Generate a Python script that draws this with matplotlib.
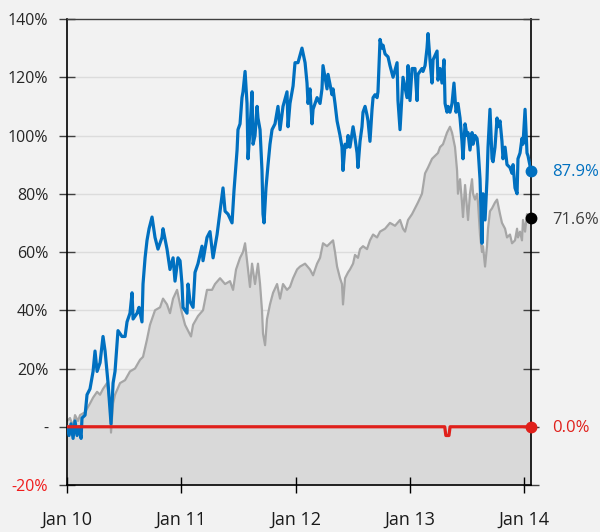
import matplotlib
matplotlib.use("Agg")
import matplotlib.pyplot as plt
import numpy as np

plt.rcParams['font.family'] = ['Open Sans', 'DejaVu Sans']

# --- data (x as decimal years, y in %) ---
blue_x = [2010.000, 2010.018, 2010.035, 2010.053, 2010.070, 2010.088, 2010.105, 2010.123, 2010.131, 2010.158,
          2010.175, 2010.201, 2010.228, 2010.245, 2010.263, 2010.289, 2010.315, 2010.333, 2010.350, 2010.359,
          2010.385, 2010.403, 2010.420, 2010.446, 2010.481, 2010.508, 2010.525, 2010.551, 2010.569, 2010.578,
          2010.613, 2010.630, 2010.656, 2010.665, 2010.683, 2010.700, 2010.718, 2010.744, 2010.770, 2010.796,
          2010.831, 2010.840, 2010.875, 2010.901, 2010.928, 2010.945, 2010.971, 2010.989, 2011.006, 2011.015,
          2011.050, 2011.059, 2011.076, 2011.103, 2011.120, 2011.146, 2011.181, 2011.190, 2011.225, 2011.251,
          2011.278, 2011.313, 2011.339, 2011.365, 2011.383, 2011.409, 2011.444, 2011.461, 2011.488, 2011.496,
          2011.514, 2011.531, 2011.540, 2011.558, 2011.575, 2011.584, 2011.601, 2011.619, 2011.628, 2011.645,
          2011.663, 2011.671, 2011.689, 2011.706, 2011.715, 2011.724, 2011.741, 2011.759, 2011.776, 2011.794,
          2011.820, 2011.846, 2011.864, 2011.890, 2011.925, 2011.934, 2011.951, 2011.978, 2011.995, 2012.021,
          2012.056, 2012.083, 2012.100, 2012.109, 2012.126, 2012.144, 2012.153, 2012.188, 2012.214, 2012.231,
          2012.240, 2012.275, 2012.284, 2012.319, 2012.328, 2012.345, 2012.363, 2012.389, 2012.406, 2012.415,
          2012.433, 2012.450, 2012.459, 2012.476, 2012.503, 2012.520, 2012.538, 2012.546, 2012.564, 2012.581,
          2012.590, 2012.608, 2012.625, 2012.634, 2012.651, 2012.669, 2012.678, 2012.695, 2012.713, 2012.721,
          2012.739, 2012.756, 2012.765, 2012.783, 2012.809, 2012.826, 2012.853, 2012.888, 2012.896, 2012.914,
          2012.940, 2012.975, 2012.984, 2013.001, 2013.019, 2013.045, 2013.063, 2013.071, 2013.106, 2013.115,
          2013.133, 2013.150, 2013.159, 2013.176, 2013.194, 2013.203, 2013.238, 2013.246, 2013.264, 2013.281,
          2013.299, 2013.308, 2013.325, 2013.334, 2013.351, 2013.369, 2013.386, 2013.404, 2013.421, 2013.439,
          2013.456, 2013.465, 2013.483, 2013.500, 2013.509, 2013.526, 2013.544, 2013.553, 2013.570, 2013.588,
          2013.596, 2013.614, 2013.631, 2013.640, 2013.658, 2013.675, 2013.684, 2013.701, 2013.719, 2013.728,
          2013.745, 2013.763, 2013.771, 2013.789, 2013.806, 2013.815, 2013.833, 2013.850, 2013.876, 2013.894,
          2013.903, 2013.920, 2013.938, 2013.946, 2013.964, 2013.981, 2013.990, 2014.008, 2014.025, 2014.034,
          2014.060]
blue_y = [0, -3, 1, -4, 2, -3, 0, -4, 3, 4,
          11, 13, 19, 26, 19, 22, 31, 26, 19, 15,
          1, 15, 19, 33, 31, 31, 36, 39, 46, 37,
          39, 41, 36, 49, 58, 64, 68, 72, 65, 61,
          65, 68, 61, 54, 58, 50, 58, 57, 49, 41,
          39, 49, 43, 41, 53, 56, 62, 57, 65, 67,
          58, 66, 74, 82, 74, 73, 70, 81, 95, 102,
          104, 113, 115, 122, 111, 92, 102, 115, 97, 100,
          110, 106, 102, 88, 73, 70, 82, 90, 97, 102,
          104, 110, 102, 110, 115, 103, 111, 117, 125, 125,
          130, 125, 118, 111, 116, 104, 109, 113, 111, 116,
          124, 116, 121, 114, 116, 111, 105, 100, 96, 88,
          97, 96, 100, 96, 103, 99, 94, 89, 98, 103,
          108, 110, 107, 105, 98, 109, 113, 114, 113, 115,
          133, 130, 131, 128, 127, 124, 120, 125, 112, 102,
          120, 113, 124, 112, 123, 123, 112, 121, 123, 122,
          124, 130, 135, 126, 118, 126, 129, 119, 123, 118,
          126, 111, 108, 110, 108, 111, 118, 108, 111, 106,
          98, 92, 104, 100, 101, 95, 101, 97, 100, 99,
          96, 85, 63, 80, 71, 85, 96, 109, 92, 91,
          96, 106, 103, 105, 98, 92, 96, 90, 89, 87,
          90, 82, 80, 92, 94, 99, 97, 109, 94, 93,
          87.9]

gray_x = [2010.000, 2010.026, 2010.053, 2010.070, 2010.096, 2010.114, 2010.158, 2010.201, 2010.228, 2010.263,
          2010.289, 2010.315, 2010.350, 2010.376, 2010.385, 2010.403, 2010.420, 2010.464, 2010.508, 2010.551,
          2010.595, 2010.639, 2010.665, 2010.700, 2010.726, 2010.770, 2010.814, 2010.840, 2010.875, 2010.901,
          2010.928, 2010.963, 2010.989, 2011.006, 2011.033, 2011.059, 2011.085, 2011.103, 2011.146, 2011.190,
          2011.225, 2011.269, 2011.295, 2011.339, 2011.383, 2011.426, 2011.453, 2011.479, 2011.514, 2011.540,
          2011.558, 2011.575, 2011.601, 2011.619, 2011.645, 2011.671, 2011.689, 2011.706, 2011.715, 2011.733,
          2011.750, 2011.776, 2011.803, 2011.838, 2011.864, 2011.890, 2011.925, 2011.951, 2011.978, 2012.013,
          2012.039, 2012.083, 2012.126, 2012.153, 2012.188, 2012.214, 2012.240, 2012.275, 2012.301, 2012.328,
          2012.345, 2012.363, 2012.389, 2012.406, 2012.415, 2012.433, 2012.459, 2012.476, 2012.503, 2012.520,
          2012.546, 2012.564, 2012.590, 2012.625, 2012.651, 2012.678, 2012.713, 2012.739, 2012.783, 2012.826,
          2012.870, 2012.914, 2012.940, 2012.958, 2012.984, 2013.019, 2013.045, 2013.071, 2013.106, 2013.133,
          2013.159, 2013.194, 2013.220, 2013.246, 2013.264, 2013.290, 2013.325, 2013.351, 2013.369, 2013.395,
          2013.413, 2013.421, 2013.439, 2013.456, 2013.465, 2013.483, 2013.500, 2013.509, 2013.526, 2013.544,
          2013.553, 2013.570, 2013.588, 2013.596, 2013.614, 2013.631, 2013.640, 2013.658, 2013.675, 2013.684,
          2013.701, 2013.719, 2013.745, 2013.763, 2013.789, 2013.806, 2013.833, 2013.850, 2013.876, 2013.894,
          2013.920, 2013.938, 2013.946, 2013.964, 2013.981, 2013.990, 2014.008, 2014.025, 2014.060]
gray_y = [2, 3, 0, 4, 2, 4, 5, 8, 10, 12,
          11, 13, 15, 8, -2, 8, 11, 15, 16, 19,
          20, 23, 24, 30, 35, 40, 41, 44, 42, 39,
          44, 47, 42, 39, 35, 33, 31, 35, 38, 40,
          47, 47, 49, 51, 49, 50, 47, 54, 58, 60,
          63, 57, 48, 56, 49, 56, 49, 40, 32, 28,
          37, 42, 46, 49, 44, 49, 47, 48, 51, 54,
          55, 56, 54, 52, 56, 58, 63, 62, 63, 64,
          60, 55, 51, 49, 42, 51, 53, 54, 56, 59,
          58, 61, 62, 61, 64, 66, 65, 67, 68, 70,
          69, 71, 68, 67, 71, 73, 75, 77, 80, 87,
          89, 92, 93, 94, 96, 97, 101, 103, 101, 96,
          88, 80, 85, 77, 72, 83, 75, 71, 80, 85,
          80, 78, 80, 77, 66, 60, 62, 55, 62, 68,
          74, 75, 77, 78, 73, 70, 68, 65, 66, 63,
          64, 68, 65, 67, 64, 71, 67, 73, 71.6]

red_x = [2010.000, 2013.305, 2013.315, 2013.342, 2013.352, 2014.060]
red_y = [0, 0, -3, -3, 0, 0]

end_labels = ["87.9%", "71.6%", "0.0%"]
year_ticks = [2010, 2011, 2012, 2013, 2014]
year_labels = ["Jan 10", "Jan 11", "Jan 12", "Jan 13", "Jan 14"]
y_ticks = [-20, 0, 20, 40, 60, 80, 100, 120, 140]
y_labels = ["-20%", "-", "20%", "40%", "60%", "80%", "100%", "120%", "140%"]

c_blue = "#0070c0"
c_gray = "#a6a6a6"
c_red = "#e0201b"
bg = "#f2f2f2"

fig = plt.figure(figsize=(6, 5.32), dpi=100, facecolor=bg)
ax = fig.add_axes([0.1117, 0.0883, 0.7733, 0.876], facecolor=bg)

ax.set_xlim(2010.0, 2014.06)
ax.set_ylim(-20, 140)

# grid under everything
for v in y_ticks[2:-1]:
    ax.axhline(v, color="#dcdcdc", lw=1, zorder=0)

ax.fill_between(gray_x, gray_y, -20, color="#d9d9d9", lw=0, zorder=1)
ax.plot(gray_x, gray_y, color=c_gray, lw=1.6, zorder=2)
ax.plot(blue_x, blue_y, color=c_blue, lw=2.3, zorder=3)
ax.plot(red_x, red_y, color=c_red, lw=2.3, zorder=4)

# end markers + labels
ends = [(blue_x[-1], blue_y[-1], c_blue, c_blue),
        (gray_x[-1], gray_y[-1], "black", "#404040"),
        (red_x[-1], red_y[-1], c_red, c_red)]
for (x, y, mc, tc), lab in zip(ends, end_labels):
    ax.plot([x], [y], "o", color=mc, ms=7.5, clip_on=False, zorder=6)
    ax.annotate(lab, (x, y), xytext=(15, -1), textcoords="offset points",
                va="center", ha="left", color=tc, fontsize=12)

ax.set_xticks(year_ticks)
ax.set_xticklabels(year_labels, fontsize=13)
ax.set_yticks(y_ticks)
ax.set_yticklabels(y_labels, fontsize=11.5, color="#262626")
ax.get_yticklabels()[0].set_color("#f01c1c")

ax.tick_params(axis="x", direction="inout", length=11, width=1, pad=13, colors="black")
ax.tick_params(axis="x", labelcolor="#1a1a1a")
ax.tick_params(axis="y", direction="inout", length=11, width=1, pad=8,
               right=True, color="#404040")

for s in ["left", "right", "bottom"]:
    ax.spines[s].set_color("black")
    ax.spines[s].set_linewidth(1.2)
ax.spines["top"].set_color("#404040")
ax.spines["top"].set_linewidth(1)

fig.savefig("out.png", dpi=100, facecolor=bg)
